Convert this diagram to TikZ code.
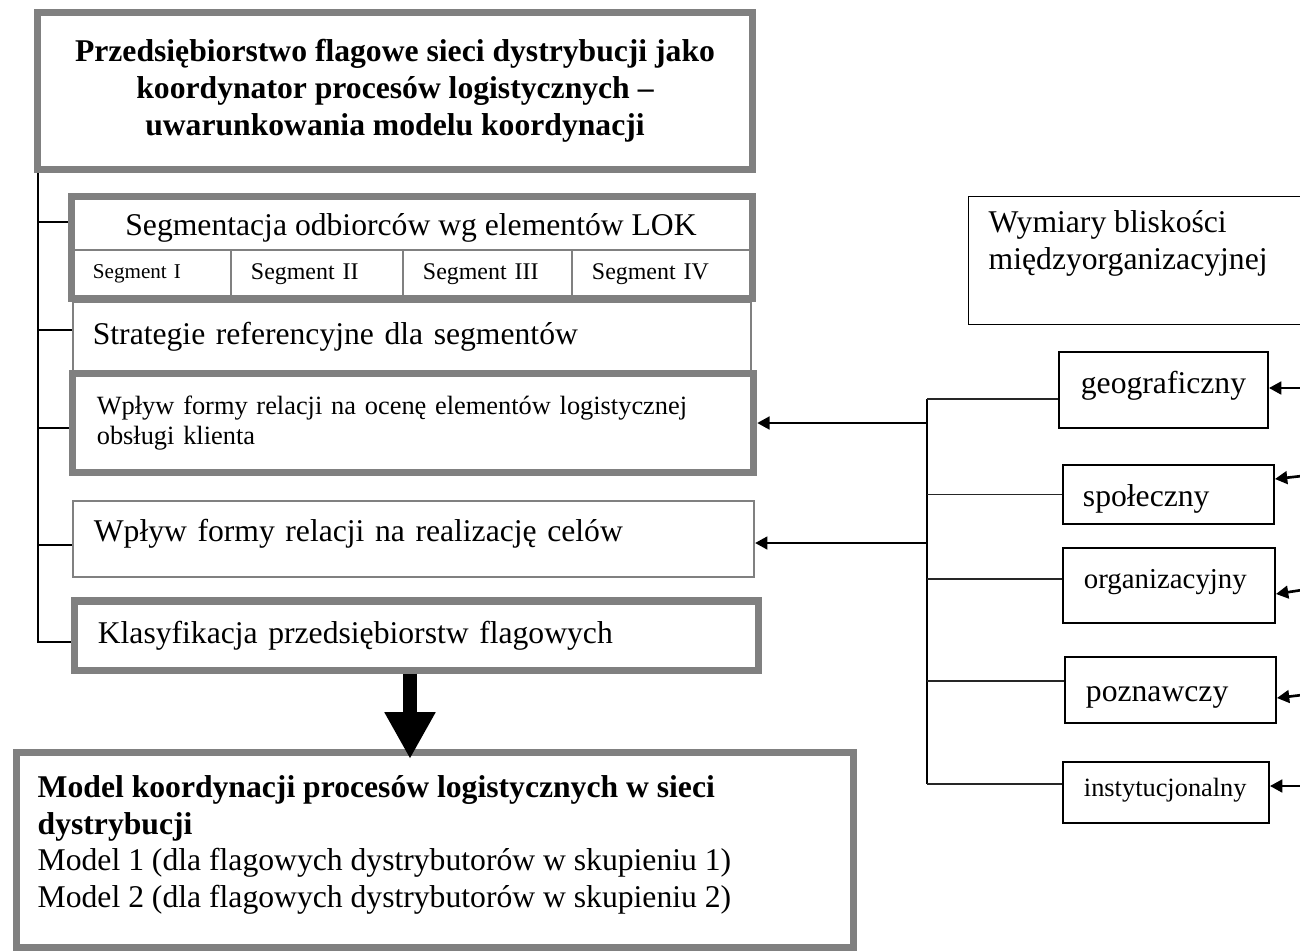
\documentclass[tikz,border=0pt]{standalone}
\usepackage{fontspec}
\setmainfont{Liberation Serif}
\usepackage{tikz}
\usetikzlibrary{positioning, arrows.meta}
\definecolor{framegray}{RGB}{128,128,128}

\begin{document}
\begin{tikzpicture}[
    x=0.01cm, y=-0.01cm,
    frame/.style={rectangle, draw=framegray, line width=2pt, inner sep=0pt},
    thinframe/.style={rectangle, draw=framegray, line width=0.5pt, inner sep=0pt},
    dimbox/.style={rectangle, draw=black, line width=0.5pt, inner sep=0pt},
    boxtext/.style={align=left, font=\fontsize{9pt}{10.5pt}\selectfont},
    cell/.style={thinframe, minimum height=0.48cm, inner xsep=0.2cm, align=left,
                 font=\fontsize{6.8pt}{8pt}\selectfont},
    txt/.style={inner sep=0pt, align=left, font=\fontsize{9pt}{10.4pt}\selectfont},
    branch/.style={line width=0.45pt, black!85},
    trunk/.style={line width=0.7pt},
    bracket/.style={line width=0.6pt},
    arrow/.style={-{Triangle[length=3.5pt, width=3.6pt]}, line width=0.75pt},
    bigarrow/.style={-{Triangle[length=13.3pt, width=13.6pt]}, line width=4.25pt}
]
    \useasboundingbox (0,0) rectangle (1300,951);

    % Left column
    \node[frame, minimum width=7.15cm, minimum height=1.57cm, align=center,
          font=\bfseries\fontsize{9pt}{10.5pt}\selectfont] (title) at (395,91)
        {Przedsiębiorstwo flagowe sieci dystrybucji jako\\koordynator procesów logistycznych –\\uwarunkowania modelu koordynacji};

    \node[frame, minimum width=6.81cm, minimum height=1.02cm] (seg) at (412,247.5) {};
    \node[txt] (seg-head) at (411,228) {Segmentacja odbiorców wg elementów LOK};
    \node[cell, text width=1.18cm, font=\fontsize{6pt}{7pt}\selectfont] (seg1) at (152,274) {Segment I};
    \node[cell, text width=1.32cm] (seg2) at (317,274) {Segment II};
    \node[cell, text width=1.29cm] (seg3) at (487.5,274) {Segment III};
    \node[cell, text width=1.40cm] (seg4) at (662,274) {Segment IV};

    \node[thinframe, boxtext, minimum width=6.78cm, minimum height=0.69cm,
          text width=6.38cm, inner xsep=0.2cm] (strat) at (412,336.5)
        {Strategie referencyjne dla segmentów};

    \node[frame, align=left, font=\fontsize{7.5pt}{8.6pt}\selectfont, minimum width=6.81cm,
          minimum height=0.99cm, text width=6.32cm, inner xsep=0.245cm] (ocena) at (413,423)
        {Wpływ formy relacji na ocenę elementów logistycznej\\obsługi klienta};

    \node[thinframe, boxtext, minimum width=6.81cm, minimum height=0.76cm,
          text width=6.39cm, inner xsep=0.21cm, text depth=4.8pt] (realiz) at (413.5,539)
        {Wpływ formy relacji na realizację celów};

    \node[frame, boxtext, minimum width=6.83cm, minimum height=0.69cm,
          text width=6.37cm, inner xsep=0.23cm] (klas) at (416.5,635.5)
        {Klasyfikacja przedsiębiorstw flagowych};

    \node[frame, minimum width=8.36cm, minimum height=1.94cm] (model) at (435,850) {};
    \node[txt, anchor=north west] (model-txt) at (37,775)
        {\textbf{Model koordynacji procesów logistycznych w sieci}\\\textbf{dystrybucji}\\
         Model 1 (dla flagowych dystrybutorów w skupieniu 1)\\
         Model 2 (dla flagowych dystrybutorów w skupieniu 2)};

    % Right column
    \node[dimbox, minimum width=3.365cm, minimum height=1.28cm] (dim) at (1136.75,260.5) {};
    \node[txt, anchor=north west] (dim-txt) at (988,210) {Wymiary bliskości\\międzyorganizacyjnej};

    \node[dimbox, font=\fontsize{9pt}{10.5pt}\selectfont, minimum width=2.09cm,
          minimum height=0.76cm, text depth=4.4pt] (geo) at (1163.5,390) {geograficzny};
    \node[dimbox, boxtext, minimum width=2.11cm, minimum height=0.59cm,
          text width=1.71cm, inner xsep=0.2cm, text height=8.8pt] (spol) at (1168.5,494.5) {społeczny};
    \node[dimbox, align=left, font=\fontsize{8.2pt}{9.5pt}\selectfont, minimum width=2.12cm,
          minimum height=0.75cm, text width=1.70cm, inner xsep=0.21cm, text depth=4pt] (org) at (1169,585.5) {organizacyjny};
    \node[dimbox, boxtext, minimum width=2.11cm, minimum height=0.66cm,
          text width=1.69cm, inner xsep=0.21cm, text height=8.4pt] (pozn) at (1170.5,690) {poznawczy};
    \node[dimbox, align=left, font=\fontsize{7.5pt}{9pt}\selectfont, minimum width=2.06cm,
          minimum height=0.61cm, text width=1.64cm, inner xsep=0.21cm, text depth=2.8pt] (inst) at (1166,792.5) {instytucjonalny};

    % Connections
    \coordinate (drop) at ([xshift=-0.065cm]klas.south);
    \draw[bigarrow, shorten >=-0.095cm] (drop) -- (drop |- model.north);

    \coordinate (brk) at ([xshift=0.04cm]title.south west);
    \draw[bracket] (brk) -- (brk |- 0,642) -- (klas.west |- 0,642);
    \draw[bracket] (brk |- 0,222) -- (seg.west |- 0,222);
    \draw[bracket] (brk |- 0,330) -- (strat.west |- 0,330);
    \draw[bracket] (brk |- 0,428) -- (ocena.west |- 0,428);
    \draw[bracket] (brk |- 0,545) -- (realiz.west |- 0,545);

    \coordinate (jt) at (927,399);
    \coordinate (jb) at (927,784);
    \draw[trunk] (jt) -- (jb);
    \draw[branch] (jt) -- (geo.west |- jt);
    \draw[branch] (jt |- spol.west) -- (spol.west);
    \draw[branch] (jt |- 0,579) -- (org.west |- 0,579);
    \draw[branch] (jt |- 0,681) -- (pozn.west |- 0,681);
    \draw[branch] (jb) -- (inst.west |- jb);

    \draw[arrow] (jt |- 0,423) -- (ocena.east |- 0,423);
    \draw[arrow] (jt |- 0,543) -- (realiz.east |- 0,543);

    % Incoming from the right
    \coordinate (in-geo) at (1302,388);
    \coordinate (in-spol) at (1302,476);
    \coordinate (in-org) at (1302,590);
    \coordinate (in-pozn) at (1302,695);
    \coordinate (in-inst) at (1302,786);
    \draw[arrow] (in-geo) -- (geo.east |- in-geo);
    \draw[arrow] (in-spol) -- (spol.east |- 0,479);
    \draw[arrow] (in-org) -- (org.east |- 0,594);
    \draw[arrow] (in-pozn) -- (pozn.east |- 0,698);
    \draw[arrow] (in-inst) -- (inst.east |- in-inst);
\end{tikzpicture}
\end{document}
